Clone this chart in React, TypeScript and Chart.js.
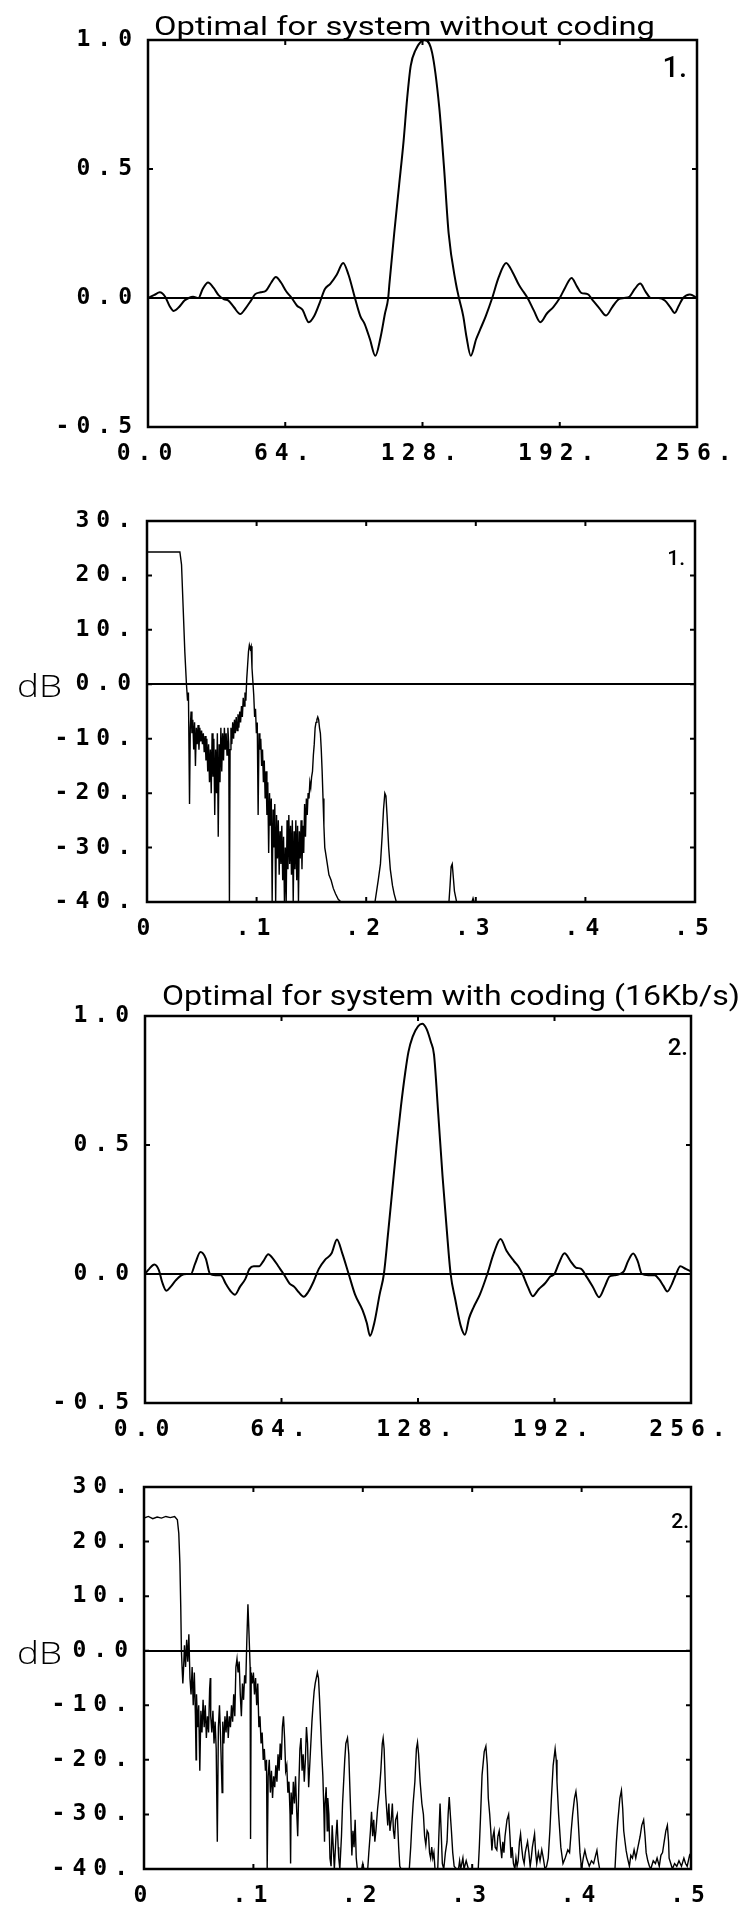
import React, { useEffect, useRef } from "react";
import { Chart, registerables } from "chart.js";

Chart.register(...registerables);

// ---------- tick values and labels ----------
const impulseYTicks = [-0.5, 0, 0.5, 1];
const impulseYLabels = ["-0.5", "0.0", "0.5", "1.0"];
const sampleXTicks = [0, 64, 128, 192, 256];
const sampleXLabels = ["0.0", "64.", "128.", "192.", "256."];
const dbYTicks = [-40, -30, -20, -10, 0, 10, 20, 30];
const dbYLabels = ["-40.", "-30.", "-20.", "-10.", "0.0", "10.", "20.", "30."];
const freqXTicks = [0, 0.1, 0.2, 0.3, 0.4, 0.5];
const freqXLabels = ["0", ".1", ".2", ".3", ".4", ".5"];

const panelTitles = ["Optimal for system without coding", "Optimal for system with coding (16Kb/s)"];
const panelNumbers = ["1.", "2."];
const dbLabel = "dB";

// ---------- impulse responses (sample index, amplitude) ----------
const impulseWithout: [number, number][] = [
  [0, 0.0], [3, 0.012], [5.5, 0.022], [8, 0.005], [10, -0.03], [12, -0.05], [14.5, -0.035],
  [17, -0.01], [19, 0.0], [21, 0.005], [23.5, 0.0], [25.5, 0.035], [28, 0.06], [30.5, 0.04],
  [33, 0.01], [35.5, -0.005], [37.5, -0.01], [40, -0.035], [43, -0.062], [45.5, -0.04],
  [48, -0.01], [50, 0.015], [52.5, 0.022], [55, 0.028], [57.5, 0.06], [59.6, 0.081],
  [62, 0.06], [64.5, 0.025], [67, 0.0], [69.5, -0.03], [72, -0.045], [75, -0.094],
  [77.5, -0.07], [80, -0.02], [82.5, 0.035], [85, 0.055], [88, 0.09], [91, 0.136],
  [93.5, 0.09], [96.5, 0.0], [99, -0.07], [101, -0.1], [103.5, -0.16], [106, -0.224],
  [108.5, -0.15], [110.5, -0.06], [112, 0.0], [112.6, 0.058], [114.8, 0.25], [117, 0.43],
  [119.2, 0.61], [120.8, 0.77], [122.5, 0.9], [124.7, 0.96], [129, 1.0], [132.5, 0.95],
  [135.8, 0.74], [138, 0.51], [140.2, 0.25], [143.5, 0.06], [145, 0.0], [147, -0.07],
  [148.5, -0.15], [150.5, -0.224], [153, -0.16], [155, -0.12], [157.5, -0.07], [160.5, 0.0],
  [163.5, 0.08], [167, 0.136], [170, 0.1], [173, 0.05], [175, 0.025], [177, 0.0],
  [180, -0.05], [183, -0.094], [186, -0.06], [189, -0.035], [192, 0.0], [194.5, 0.04],
  [197.5, 0.078], [200, 0.045], [202, 0.02], [205, 0.015], [207.5, -0.01], [210.5, -0.04],
  [213.6, -0.068], [216.5, -0.035], [219.5, -0.005], [222, 0.0], [224.5, 0.005], [227, 0.035],
  [229.5, 0.056], [232, 0.025], [234.5, 0.0], [238, 0.0], [241, -0.01], [243.5, -0.035],
  [245.6, -0.058], [247.5, -0.03], [249.5, 0.0], [252.7, 0.014], [256, 0.0],
];

const impulseWith: [number, number][] = [
  [0, 0.0], [2, 0.02], [4.4, 0.037], [6.5, 0.015], [8, -0.03], [10, -0.065], [12, -0.05],
  [14.4, -0.025], [17, -0.005], [19.5, 0.0], [21.5, 0.0], [23.5, 0.04], [26, 0.085],
  [28.5, 0.06], [30.5, 0.0], [33, -0.005], [35.5, -0.005], [38, -0.04], [40, -0.065],
  [42.2, -0.08], [44.5, -0.05], [47, -0.02], [49, 0.02], [51, 0.03], [53.5, 0.03],
  [55.5, 0.05], [57.8, 0.077], [60, 0.06], [62.5, 0.03], [65, 0.0], [67.8, -0.037],
  [70, -0.05], [72, -0.07], [74.4, -0.088], [76.5, -0.07], [79, -0.03], [81.5, 0.02],
  [84.4, 0.055], [87.5, 0.08], [90, 0.134], [92.5, 0.08], [95.5, 0.0], [98.5, -0.08],
  [102, -0.14], [104, -0.19], [105.5, -0.24], [107.5, -0.19], [110, -0.08], [112, 0.0],
  [114, 0.16], [116, 0.33], [118, 0.5], [120, 0.65], [122, 0.78], [123.5, 0.86],
  [125.5, 0.92], [128, 0.96], [130, 0.97], [132, 0.95], [134, 0.9], [135.5, 0.85],
  [137.5, 0.62], [139.5, 0.38], [141.5, 0.17], [143.3, 0.0], [145.5, -0.1], [148, -0.2],
  [150, -0.235], [152, -0.17], [154, -0.13], [157, -0.08], [160.5, 0.0], [163.5, 0.08],
  [166.7, 0.136], [169.5, 0.09], [173, 0.05], [175, 0.03], [177, 0.0], [179.5, -0.05],
  [181.8, -0.086], [184.5, -0.06], [187.7, -0.035], [190, -0.01], [192, 0.0], [194, 0.04],
  [196.7, 0.08], [199.5, 0.05], [202, 0.025], [204.5, 0.02], [207, -0.01], [210, -0.05],
  [212.9, -0.09], [215.5, -0.05], [217.8, -0.01], [220, -0.005], [222.5, 0.0], [224.5, 0.01],
  [226.5, 0.05], [228.9, 0.079], [231, 0.05], [233, 0.0], [236, -0.005], [239, -0.005],
  [241, -0.02], [243, -0.045], [244.9, -0.068], [247, -0.04], [249, 0.0], [251, 0.03],
  [253.5, 0.02], [256, 0.01],
];

// ---------- spectra (normalised frequency, dB) ----------
const spectrumWithout: [number, number][] = [
  [0, 24.3], [0.01, 24.3], [0.02, 24.3], [0.03, 24.3], [0.0315, 22], [0.033, 14], [0.0345, 6],
  [0.036, 0], [0.037, -3], [0.0378, -1.5], [0.0388, -22], [0.0395, -8], [0.0402, -5],
  [0.041, -9], [0.0418, -6.5], [0.0426, -12], [0.0434, -7], [0.0442, -15], [0.045, -8],
  [0.0458, -11], [0.0466, -7.5], [0.0474, -12], [0.0482, -8], [0.049, -10.5], [0.0498, -8.5],
  [0.0506, -11], [0.0514, -9], [0.0522, -12.5], [0.053, -9.5], [0.0538, -14], [0.0546, -10],
  [0.0554, -16], [0.0562, -11], [0.057, -18], [0.0578, -12], [0.0586, -20], [0.0594, -9],
  [0.0602, -17], [0.061, -10], [0.0618, -24], [0.0626, -12], [0.0634, -20], [0.0642, -9],
  [0.065, -28], [0.0658, -11], [0.0666, -18], [0.0674, -8], [0.0682, -16], [0.069, -9],
  [0.0698, -14], [0.0706, -8], [0.0714, -12], [0.0722, -9], [0.073, -13], [0.0738, -8],
  [0.0746, -11], [0.0752, -40], [0.0758, -12], [0.0766, -8], [0.0774, -11], [0.0782, -7],
  [0.079, -10], [0.0798, -6.5], [0.0806, -9], [0.0814, -6], [0.0822, -8.5], [0.083, -5.5],
  [0.0838, -8], [0.0846, -5], [0.0854, -7], [0.0862, -4], [0.087, -6], [0.0878, -2.5],
  [0.0886, -4], [0.0894, -1.5], [0.0902, -3], [0.091, 1], [0.0918, 3.5], [0.0926, 6],
  [0.0934, 7.2], [0.0942, 6.5], [0.095, 7], [0.0958, 3], [0.0966, 0.5], [0.0974, -2],
  [0.0982, -6], [0.099, -4.5], [0.0998, -9], [0.1006, -7], [0.1014, -24], [0.1022, -9],
  [0.103, -12], [0.1038, -10], [0.1046, -15], [0.1054, -12], [0.1062, -18], [0.107, -14],
  [0.1078, -21], [0.1086, -16], [0.1094, -24], [0.1102, -18], [0.111, -31], [0.1118, -20],
  [0.1126, -26], [0.1134, -21], [0.1142, -40], [0.115, -23], [0.1158, -30], [0.1166, -22],
  [0.1174, -40], [0.1182, -24], [0.119, -32], [0.1198, -25], [0.1206, -35], [0.1214, -27],
  [0.1222, -33], [0.123, -26], [0.1238, -36], [0.1246, -28], [0.1254, -40], [0.1262, -30],
  [0.127, -40], [0.1278, -25], [0.1286, -34], [0.1294, -24], [0.1302, -33], [0.131, -26],
  [0.1318, -35], [0.1326, -25], [0.1334, -40], [0.1342, -27], [0.135, -34], [0.1358, -25],
  [0.1366, -36], [0.1374, -26], [0.1382, -40], [0.139, -27], [0.1398, -32], [0.1406, -25],
  [0.1414, -34], [0.1422, -26], [0.143, -31], [0.1438, -22], [0.1446, -28], [0.1454, -21],
  [0.1462, -24], [0.147, -20], [0.1478, -21], [0.1486, -18], [0.1494, -19], [0.1502, -17],
  [0.151, -16], [0.1518, -13], [0.1526, -11], [0.1534, -8], [0.1542, -7], [0.155, -6.5],
  [0.1558, -6], [0.1566, -6.5], [0.1574, -8], [0.1582, -9], [0.159, -12], [0.1598, -16],
  [0.1606, -21], [0.1614, -26], [0.1622, -30], [0.163, -31], [0.1645, -33], [0.166, -35],
  [0.168, -36], [0.17, -37.5], [0.172, -38.5], [0.1745, -39.5], [0.177, -40], [0.208, -40],
  [0.2095, -38], [0.211, -36], [0.213, -33], [0.2145, -28], [0.2158, -23], [0.217, -20],
  [0.218, -20.5], [0.219, -24], [0.2205, -30], [0.222, -34], [0.224, -37], [0.2255, -38.5],
  [0.2275, -40], [0.2755, -40], [0.2765, -37], [0.2775, -33.5], [0.2785, -33], [0.2795, -35.5],
  [0.2805, -38], [0.2825, -40], [0.2965, -40], [0.2975, -39.3], [0.2985, -40], [0.5, -40],
];

const spectrumWith: [number, number][] = [
  [0, 24.3], [0.004, 24.6], [0.008, 24.2], [0.012, 24.5], [0.016, 24.3], [0.02, 24.6],
  [0.024, 24.4], [0.028, 24.6], [0.0305, 24], [0.0318, 21.5], [0.0328, 16], [0.0336, 8],
  [0.0342, 0], [0.0348, -3], [0.0355, -6], [0.036, -4], [0.037, 1], [0.038, -3], [0.039, 2],
  [0.04, -2], [0.041, 3], [0.042, -5], [0.043, -8], [0.044, -3], [0.045, -10], [0.046, -4],
  [0.047, -12], [0.0476, -20], [0.048, -8], [0.049, -14], [0.05, -10], [0.051, -22],
  [0.052, -11], [0.053, -15], [0.054, -9], [0.055, -14], [0.056, -10], [0.057, -16],
  [0.058, -12], [0.059, -15], [0.06, -7], [0.0606, -5], [0.061, -12], [0.062, -15],
  [0.063, -11], [0.064, -17], [0.065, -13], [0.066, -18], [0.067, -35], [0.068, -14],
  [0.069, -10], [0.07, -16], [0.0714, -26], [0.072, -13], [0.073, -17], [0.074, -12],
  [0.075, -15], [0.076, -11], [0.077, -16], [0.078, -12], [0.079, -14], [0.08, -10],
  [0.081, -13], [0.082, -8], [0.083, -12], [0.084, -3], [0.085, -1.5], [0.086, -4],
  [0.087, -2], [0.088, -8], [0.089, -12], [0.09, -6], [0.091, -9], [0.092, -4.5], [0.093, -6],
  [0.094, 2], [0.095, 8.5], [0.096, 3], [0.097, -3], [0.0974, -34.5], [0.098, -4], [0.099, -6],
  [0.1, -4], [0.101, -8], [0.102, -5], [0.103, -10], [0.104, -6], [0.105, -14], [0.106, -12],
  [0.107, -17], [0.108, -15], [0.109, -20], [0.11, -18], [0.111, -22], [0.112, -20],
  [0.1126, -40], [0.1135, -23], [0.1145, -20], [0.1155, -26], [0.1165, -22], [0.1175, -27],
  [0.1185, -23], [0.1195, -25], [0.1205, -21], [0.1215, -24], [0.1225, -19], [0.1235, -22],
  [0.1245, -17], [0.1255, -20], [0.1265, -14], [0.1275, -12], [0.1285, -16], [0.1295, -22],
  [0.1305, -21], [0.1315, -26], [0.1325, -24], [0.1335, -30], [0.134, -39], [0.1345, -26],
  [0.1355, -30], [0.1365, -24], [0.1375, -28], [0.1385, -23], [0.1395, -29], [0.1405, -34],
  [0.1415, -25], [0.1425, -18], [0.1435, -16], [0.1445, -22], [0.1455, -19], [0.1465, -24],
  [0.1475, -20], [0.1485, -14], [0.1495, -17], [0.1505, -25], [0.1515, -21], [0.1525, -17],
  [0.1535, -13], [0.1545, -10], [0.1555, -7.5], [0.1565, -6], [0.1575, -5], [0.1585, -4],
  [0.1595, -5], [0.1605, -9], [0.1615, -14], [0.1625, -19], [0.1635, -23], [0.1645, -30],
  [0.165, -35], [0.1655, -28], [0.1665, -25], [0.1675, -33], [0.168, -27], [0.169, -30],
  [0.17, -38], [0.171, -39.5], [0.172, -32], [0.173, -36], [0.174, -40], [0.1755, -34],
  [0.1765, -31], [0.1775, -36], [0.178, -38], [0.179, -40], [0.1805, -34], [0.1815, -28],
  [0.1825, -24], [0.1835, -20], [0.1845, -17], [0.186, -16], [0.1872, -19], [0.188, -24],
  [0.189, -30], [0.19, -37.5], [0.191, -33], [0.192, -36], [0.193, -31], [0.194, -38],
  [0.195, -40], [0.199, -40], [0.2, -39], [0.201, -40], [0.2045, -40], [0.2055, -37],
  [0.207, -33], [0.208, -29.5], [0.209, -34], [0.21, -31], [0.211, -35], [0.212, -33],
  [0.2135, -29], [0.215, -26], [0.2165, -22], [0.2178, -17], [0.2186, -16], [0.2195, -18],
  [0.2208, -26], [0.2218, -29], [0.2228, -32], [0.2238, -28], [0.2248, -33], [0.226, -31],
  [0.227, -28], [0.228, -33], [0.229, -34.5], [0.23, -31], [0.2315, -30], [0.2328, -36],
  [0.2338, -39.5], [0.235, -40], [0.2425, -40], [0.2438, -36], [0.2448, -32], [0.246, -28],
  [0.2476, -24], [0.249, -18], [0.25, -16.8], [0.251, -19], [0.2524, -24], [0.254, -28],
  [0.2554, -30], [0.2565, -34], [0.2576, -35.6], [0.2588, -33], [0.26, -33.5], [0.261, -37],
  [0.262, -38], [0.263, -36], [0.264, -38], [0.265, -37], [0.266, -40], [0.2685, -40],
  [0.2695, -34], [0.2706, -28], [0.2716, -33], [0.2727, -39], [0.274, -40], [0.2755, -37],
  [0.277, -35], [0.278, -30], [0.279, -26.8], [0.28, -30], [0.281, -33], [0.2822, -37],
  [0.2835, -39.5], [0.2855, -40], [0.2875, -40], [0.2885, -38.5], [0.2895, -40],
  [0.2915, -38], [0.2925, -40], [0.2945, -38.5], [0.2965, -40], [0.3055, -40], [0.3065, -36],
  [0.3075, -31], [0.309, -22.8], [0.311, -18.5], [0.3125, -17.5], [0.3138, -21],
  [0.3147, -27], [0.316, -30], [0.317, -33], [0.318, -36.6], [0.319, -34], [0.32, -33],
  [0.321, -36], [0.3225, -36.5], [0.3235, -34], [0.3247, -33], [0.326, -36], [0.327, -38],
  [0.328, -35], [0.329, -37], [0.33, -34], [0.3318, -31], [0.3333, -30], [0.3345, -34],
  [0.3355, -38], [0.3365, -36], [0.3377, -39], [0.339, -40], [0.34, -38], [0.341, -39.5],
  [0.342, -38.5], [0.3432, -35], [0.3442, -33.6], [0.3452, -36], [0.3463, -38], [0.3475, -39],
  [0.3485, -37], [0.3495, -36], [0.3506, -35], [0.3518, -37], [0.353, -39.5], [0.354, -38],
  [0.355, -36], [0.357, -33.6], [0.358, -37], [0.359, -39], [0.3605, -37], [0.362, -38.5],
  [0.3636, -36.5], [0.365, -38], [0.3665, -40], [0.368, -39.5], [0.3695, -38], [0.371, -33],
  [0.3723, -27.4], [0.374, -21], [0.3758, -18], [0.3768, -20], [0.3775, -24], [0.379, -30],
  [0.38, -33], [0.381, -36], [0.383, -39], [0.385, -38], [0.3874, -36.5], [0.389, -37],
  [0.3905, -33], [0.3918, -30], [0.3935, -27], [0.3948, -25.8], [0.396, -28], [0.3974, -33],
  [0.3985, -37], [0.4, -40], [0.4015, -38], [0.403, -36.6], [0.4045, -38], [0.407, -39.5],
  [0.409, -38.5], [0.411, -39], [0.4128, -37.5], [0.414, -36.6], [0.4152, -38.5],
  [0.4165, -40], [0.4305, -40], [0.4318, -35], [0.433, -31.5], [0.435, -27], [0.4364, -25.6],
  [0.4376, -29], [0.4385, -33], [0.4397, -35], [0.4407, -36.6], [0.442, -38], [0.4437, -39.5],
  [0.445, -37.5], [0.4465, -38], [0.448, -36.5], [0.4495, -38], [0.4515, -36], [0.4535, -34],
  [0.455, -32], [0.4567, -31], [0.458, -34], [0.459, -37], [0.4605, -38.5], [0.462, -39.5],
  [0.4632, -40], [0.4655, -38.5], [0.4675, -39], [0.469, -38], [0.471, -39.5], [0.4725, -37.5],
  [0.474, -37], [0.4755, -35], [0.477, -33], [0.4784, -32], [0.4795, -35], [0.48, -38],
  [0.4815, -39], [0.483, -40], [0.485, -39], [0.487, -39.5], [0.489, -38.5], [0.4913, -39.5],
  [0.4935, -38], [0.495, -39], [0.4965, -39.5], [0.4987, -37.5], [0.5, -38],
];

// ---------- layout of the four panels (page pixels) ----------
type PanelSpec = {
  kind: "impulse" | "spectrum";
  data: [number, number][];
  canvasTop: number;
  canvasH: number;
  left: number;
  right: number;
  top: number;
  bottom: number;
  title?: { text: string; x: number; baseline: number; width: number; size: number };
  num: { text: string; right: number; baseline: number; size: number };
  showDb: boolean;
};

const panels: PanelSpec[] = [
  {
    kind: "impulse", data: impulseWithout, canvasTop: 0, canvasH: 475,
    left: 148, right: 697, top: 40, bottom: 427,
    title: { text: panelTitles[0], x: 154, baseline: 35, width: 501, size: 25 },
    num: { text: panelNumbers[0], right: 687, baseline: 77, size: 29 },
    showDb: false,
  },
  {
    kind: "spectrum", data: spectrumWithout, canvasTop: 475, canvasH: 470,
    left: 147, right: 695, top: 521, bottom: 902,
    num: { text: panelNumbers[0], right: 685, baseline: 565, size: 21 },
    showDb: true,
  },
  {
    kind: "impulse", data: impulseWith, canvasTop: 945, canvasH: 505,
    left: 145, right: 691, top: 1016, bottom: 1403,
    title: { text: panelTitles[1], x: 162, baseline: 1005, width: 578, size: 27 },
    num: { text: panelNumbers[1], right: 688, baseline: 1055, size: 24 },
    showDb: false,
  },
  {
    kind: "spectrum", data: spectrumWith, canvasTop: 1450, canvasH: 476,
    left: 144, right: 691, top: 1487, bottom: 1869,
    num: { text: panelNumbers[1], right: 689, baseline: 1528, size: 21 },
    showDb: true,
  },
];

const TICK_FONT = { family: '"DejaVu Sans Mono", "Liberation Mono", monospace', size: 23, weight: "bold" as const };
const X_AXIS_H = 40;

function fitText(ctx: CanvasRenderingContext2D, text: string, x: number, baseline: number, width: number, font: string) {
  ctx.font = font;
  const w = ctx.measureText(text).width || 1;
  ctx.save();
  ctx.translate(x, baseline);
  ctx.scale(width / w, 1);
  ctx.textAlign = "left";
  ctx.textBaseline = "alphabetic";
  ctx.fillText(text, 0, 0);
  ctx.restore();
}

function Panel({ spec }: { spec: PanelSpec }) {
  const ref = useRef<HTMLCanvasElement | null>(null);

  useEffect(() => {
    const canvas = ref.current;
    if (!canvas) return;
    const isImp = spec.kind === "impulse";
    const yTicks = isImp ? impulseYTicks : dbYTicks;
    const yLabels = isImp ? impulseYLabels : dbYLabels;
    const xTicks = isImp ? sampleXTicks : freqXTicks;
    const xLabels = isImp ? sampleXLabels : freqXLabels;
    const padTop = spec.top - spec.canvasTop;
    const areaBottom = spec.bottom - spec.canvasTop;
    const padBottom = spec.canvasH - areaBottom - X_AXIS_H;

    const decor = {
      id: "decor",
      beforeDraw(chart: any) {
        (chart.ctx as any).letterSpacing = "7px";
      },
      afterDraw(chart: any) {
        const ctx: CanvasRenderingContext2D = chart.ctx;
        const a = chart.chartArea;
        const xs = chart.scales.x;
        const ys = chart.scales.y;
        ctx.save();
        (ctx as any).letterSpacing = "0px";
        ctx.strokeStyle = "#000";
        ctx.fillStyle = "#000";
        // inward tick marks on all four sides
        ctx.lineWidth = 2;
        ctx.beginPath();
        yTicks.forEach((v) => {
          const p = ys.getPixelForValue(v);
          ctx.moveTo(a.left, p); ctx.lineTo(a.left + 5, p);
          ctx.moveTo(a.right, p); ctx.lineTo(a.right - 5, p);
        });
        xTicks.forEach((v) => {
          const p = xs.getPixelForValue(v);
          ctx.moveTo(p, a.top); ctx.lineTo(p, a.top + 5);
          ctx.moveTo(p, a.bottom); ctx.lineTo(p, a.bottom - 5);
        });
        ctx.stroke();
        // frame
        ctx.lineWidth = 2.5;
        ctx.strokeRect(a.left, a.top, a.right - a.left, a.bottom - a.top);
        // title
        if (spec.title) {
          const t = spec.title;
          fitText(ctx, t.text, t.x, t.baseline - spec.canvasTop, t.width, `400 ${t.size}px Roboto, "DejaVu Sans", sans-serif`);
        }
        // panel number
        ctx.font = `500 ${spec.num.size}px Roboto, "DejaVu Sans", sans-serif`;
        ctx.textAlign = "right";
        ctx.textBaseline = "alphabetic";
        ctx.fillText(spec.num.text, spec.num.right, spec.num.baseline - spec.canvasTop);
        // dB label
        if (spec.showDb) {
          const z = ys.getPixelForValue(0);
          fitText(ctx, dbLabel, 17, z + 13, 45, `300 31px "Open Sans", "DejaVu Sans", sans-serif`);
        }
        ctx.restore();
      },
    };

    const chart = new Chart(canvas, {
      type: "line",
      data: {
        datasets: [
          {
            data: spec.data.map(([x, y]) => ({ x, y })),
            borderColor: "#000",
            borderWidth: isImp ? 2 : 1.4,
            pointRadius: 0,
            fill: false,
            tension: 0,
            cubicInterpolationMode: isImp ? "monotone" : "default",
          } as any,
        ],
      },
      options: {
        responsive: false,
        animation: false,
        events: [],
        layout: { padding: { left: 0, right: 741 - spec.right, top: padTop, bottom: padBottom } },
        plugins: { legend: { display: false }, tooltip: { enabled: false }, title: { display: false } },
        scales: {
          x: {
            type: "linear",
            min: xTicks[0],
            max: xTicks[xTicks.length - 1],
            grid: { display: false, drawTicks: false },
            border: { display: false },
            afterBuildTicks: (s: any) => { s.ticks = xTicks.map((v) => ({ value: v })); },
            afterFit: (s: any) => {
              s.height = X_AXIS_H;
              s.paddingLeft = 0; s.paddingRight = 0; s.paddingTop = 0; s.paddingBottom = 0;
            },
            ticks: {
              autoSkip: false,
              maxRotation: 0,
              minRotation: 0,
              padding: 13,
              color: "#000",
              font: TICK_FONT,
              callback: (v: any) => xLabels[xTicks.indexOf(Number(v))] ?? "",
            },
          },
          y: {
            type: "linear",
            min: yTicks[0],
            max: yTicks[yTicks.length - 1],
            grid: {
              drawTicks: false,
              lineWidth: 2,
              color: (c: any) => (c.tick && c.tick.value === 0 ? "#000" : "rgba(0,0,0,0)"),
            },
            border: { display: false },
            afterBuildTicks: (s: any) => { s.ticks = yTicks.map((v) => ({ value: v })); },
            afterFit: (s: any) => {
              s.width = spec.left;
              s.paddingLeft = 0; s.paddingRight = 0; s.paddingTop = 0; s.paddingBottom = 0;
            },
            ticks: {
              padding: 9,
              color: "#000",
              font: TICK_FONT,
              callback: (v: any) => yLabels[yTicks.indexOf(Number(v))] ?? "",
            },
          },
        },
      },
      plugins: [decor],
    });
    return () => chart.destroy();
  }, [spec]);

  return (
    <canvas
      ref={ref}
      width={741}
      height={spec.canvasH}
      style={{ position: "absolute", left: 0, top: spec.canvasTop, width: 741, height: spec.canvasH, display: "block" }}
    />
  );
}

export default function App() {
  return (
    <div style={{ position: "absolute", left: 0, top: 0, width: 741, height: 1926, background: "#fff" }}>
      {panels.map((p, i) => (
        <Panel key={i} spec={p} />
      ))}
    </div>
  );
}
